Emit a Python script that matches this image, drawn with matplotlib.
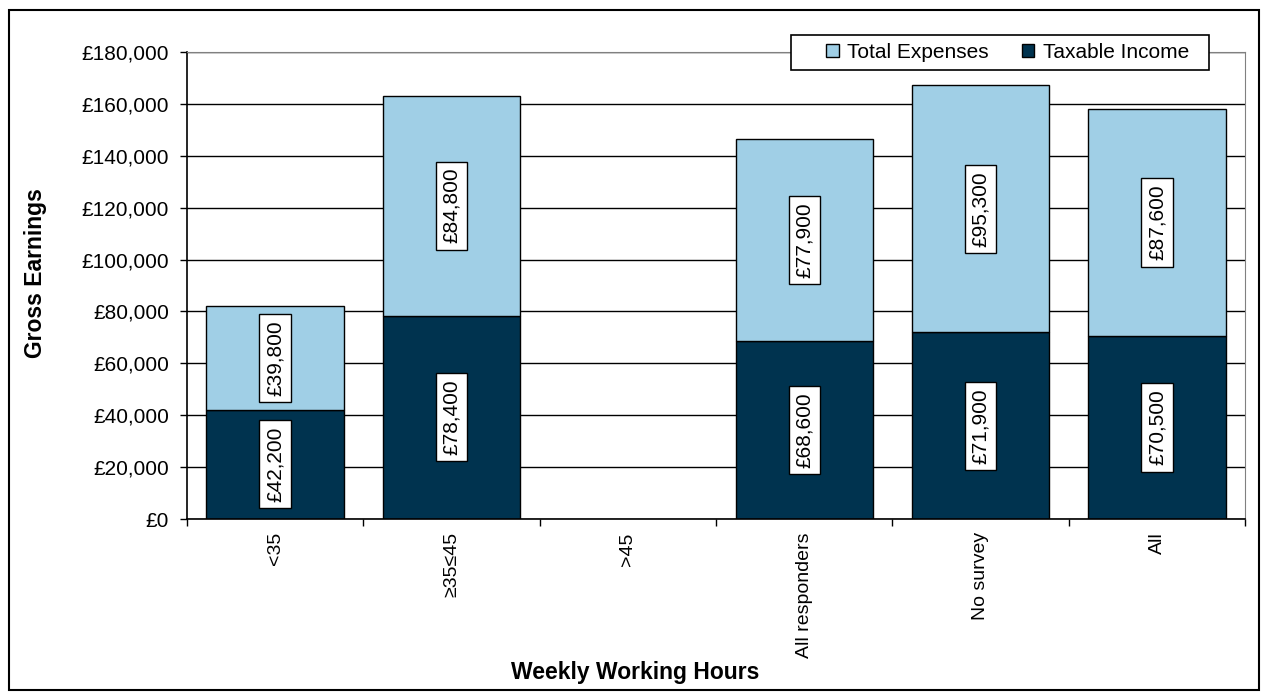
import numpy as np
import matplotlib.pyplot as plt
from matplotlib.patches import Rectangle
from matplotlib.ticker import FuncFormatter

plt.rcParams['font.family'] = ['Liberation Sans', 'DejaVu Sans']

# data
categories = ['<35', '≥35≤45', '>45', 'All responders', 'No survey', 'All']
taxable_income = [42200, 78400, np.nan, 68600, 71900, 70500]
total_expenses = [39800, 84800, np.nan, 77900, 95300, 87600]

light = '#A0CFE6'
dark = '#00334F'

fig = plt.figure(figsize=(12.68, 6.95), dpi=100)
ax = fig.add_axes([0.1475, 0.2532, 0.8345, 0.6720])

x = np.arange(len(categories))
ti = np.array(taxable_income, dtype=float)
te = np.array(total_expenses, dtype=float)

ax.set_axisbelow(True)
ax.yaxis.grid(True, color='black', lw=1)
b1 = ax.bar(x, ti, width=0.78, color=dark, edgecolor='black', lw=1, label='Taxable Income')
b2 = ax.bar(x, te, bottom=ti, width=0.78, color=light, edgecolor='black', lw=1, label='Total Expenses')

box = dict(boxstyle='square,pad=0.3', fc='white', ec='black', lw=1)
for xi, a, b in zip(x, ti, te):
    if np.isnan(a):
        continue
    ax.text(xi, a / 2, f'£{a:,.0f}', rotation=90, ha='center', va='center',
            fontsize=15, bbox=box)
    ax.text(xi, a + b / 2, f'£{b:,.0f}', rotation=90, ha='center', va='center',
            fontsize=15, bbox=box)

ax.set_xlim(-0.5, len(categories) - 0.5)
ax.set_ylim(0, 180000)
ax.set_yticks(np.arange(0, 180001, 20000))
ax.yaxis.set_major_formatter(FuncFormatter(lambda v, p: f'£{v:,.0f}'))
ax.set_xticks(x)
ax.set_xticklabels(categories, rotation=90, fontsize=14)
ax.set_xticks(np.arange(-0.5, len(categories), 1), minor=True)
ax.tick_params(axis='x', which='major', length=0, pad=9.5)
ax.tick_params(axis='x', which='minor', length=5, width=1, direction='out')
ax.tick_params(axis='y', length=5, width=1, direction='out', labelsize=15, pad=8)

for s in ['top', 'right']:
    ax.spines[s].set_color('#808080')
for s in ['left', 'bottom']:
    ax.spines[s].set_color('black')
    ax.spines[s].set_linewidth(1.2)

ax.set_ylabel('Gross Earnings', fontsize=16.5, fontweight='bold')
ax.yaxis.set_label_coords(-0.132, 0.526)
fig.text(0.5008, 0.033, 'Weekly Working Hours', fontsize=16.5, fontweight='bold',
         ha='center', va='center')

# legend frame drawn separately (Excel-style wide box)
ax.add_patch(Rectangle((0.5709, 0.9615), 0.3951, 0.0749, transform=ax.transAxes,
                       fc='white', ec='black', lw=1.2, clip_on=False, zorder=4))
leg = ax.legend(handles=[b2, b1], loc='center left', bbox_to_anchor=(0.596, 0.999),
                ncol=2, fontsize=15, frameon=False,
                borderaxespad=0, handlelength=0.6, handleheight=0.6, handletextpad=0.4,
                columnspacing=1.6, borderpad=0.4)
leg.set_zorder(5)

fig.patches.append(Rectangle((9 / 1268, 5 / 695), 1250 / 1268, 680 / 695,
                             transform=fig.transFigure, fill=False, ec='black', lw=1.5))

fig.savefig('out.png', dpi=100)
